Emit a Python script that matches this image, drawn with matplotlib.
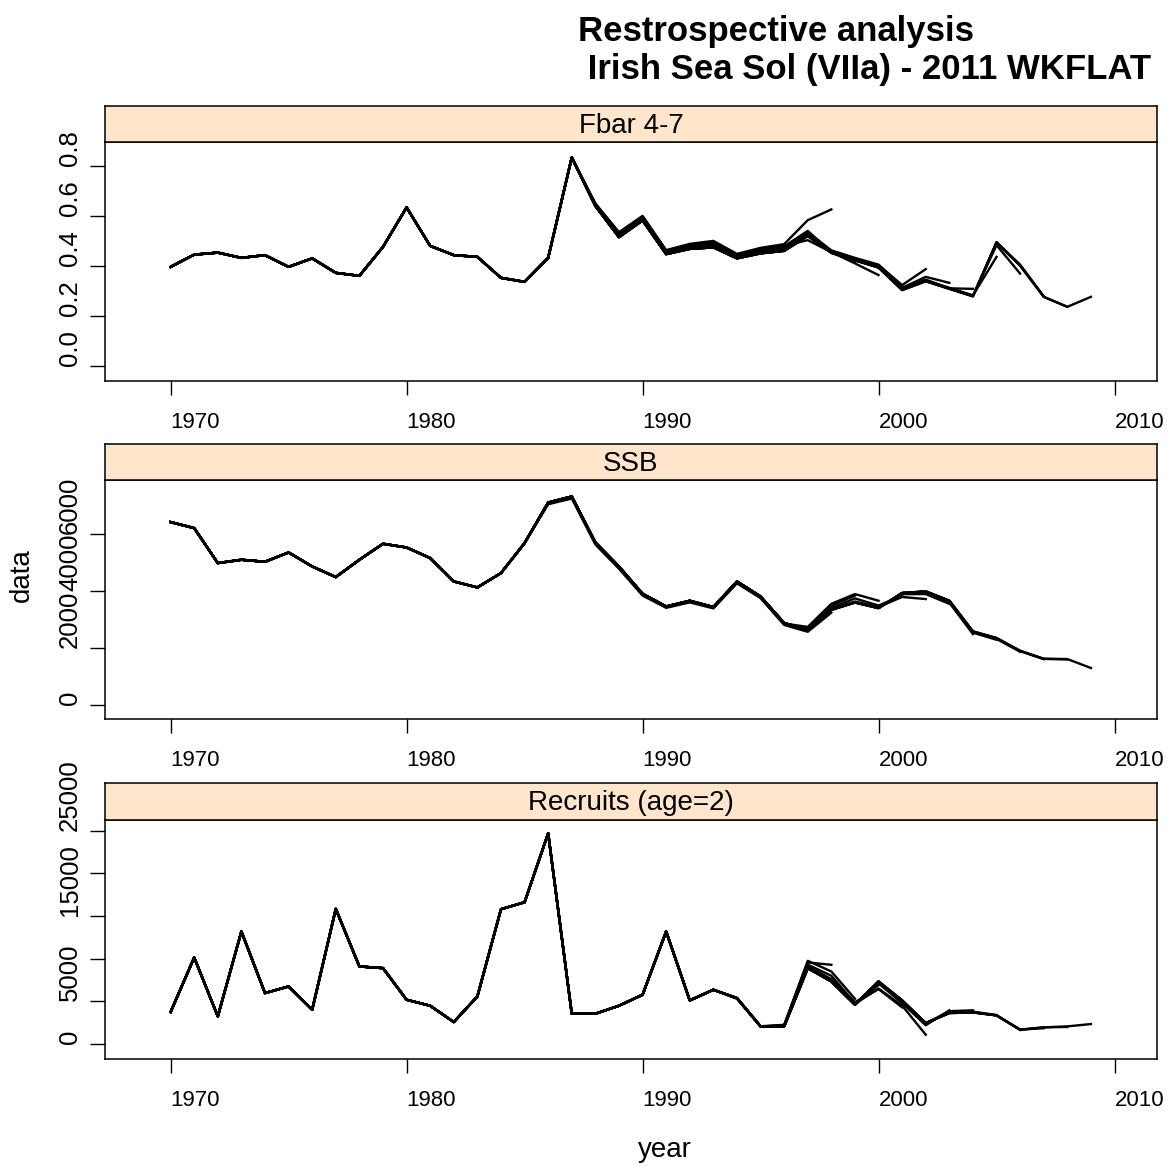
import matplotlib.pyplot as plt

plt.rcParams['font.family'] = ['Liberation Sans', 'DejaVu Sans']

# final assessment (terminal year 2009), 1970-2009
years = list(range(1970, 2010))

fbar_final = [0.396, 0.445, 0.453, 0.432, 0.443, 0.396, 0.430, 0.372, 0.360, 0.476,
              0.634, 0.480, 0.443, 0.436, 0.352, 0.336, 0.432, 0.834, 0.640, 0.515,
              0.582, 0.447, 0.468, 0.474, 0.430, 0.450, 0.460, 0.520, 0.452, 0.422,
              0.393, 0.303, 0.338, 0.308, 0.278, 0.495, 0.400, 0.276, 0.236, 0.276]

ssb_final = [6425, 6214, 4988, 5104, 5034, 5360, 4869, 4498, 5104, 5664,
             5535, 5163, 4344, 4134, 4638, 5689, 7111, 7321, 5710, 4869,
             3913, 3468, 3668, 3447, 4344, 3818, 2886, 2652, 3352, 3608,
             3412, 3937, 3994, 3668, 2592, 2361, 1916, 1636, 1625, 1310]

rec_final = [3744, 10140, 3237, 13182, 5967, 6747, 4017, 15834, 9087, 8892,
             5187, 4485, 2574, 5577, 15795, 16614, 24687, 3549, 3549, 4485,
             5772, 13182, 5109, 6357, 5382, 2067, 2067, 8892, 7332, 4602,
             7332, 5109, 2457, 3627, 3705, 3354, 1677, 1950, 2067, 2340]

# retrospective runs: last values of each run, ending at the key year
fbar_retro = {
    1998: [0.650, 0.535, 0.600, 0.463, 0.488, 0.500, 0.448, 0.472, 0.487, 0.583, 0.626],
    1999: [0.648, 0.532, 0.598, 0.460, 0.485, 0.497, 0.445, 0.468, 0.480, 0.503, 0.455, 0.415],
    2000: [0.646, 0.530, 0.595, 0.458, 0.482, 0.493, 0.442, 0.465, 0.478, 0.540, 0.455, 0.410, 0.363],
    2001: [0.645, 0.527, 0.592, 0.456, 0.480, 0.490, 0.440, 0.462, 0.475, 0.535, 0.462, 0.432, 0.405, 0.320],
    2002: [0.590, 0.453, 0.477, 0.486, 0.438, 0.460, 0.472, 0.532, 0.460, 0.430, 0.402, 0.323, 0.387],
    2003: [0.475, 0.484, 0.437, 0.458, 0.470, 0.530, 0.458, 0.428, 0.400, 0.312, 0.356, 0.332],
    2004: [0.435, 0.456, 0.467, 0.528, 0.456, 0.426, 0.398, 0.310, 0.345, 0.310, 0.308],
    2005: [0.465, 0.525, 0.455, 0.425, 0.397, 0.308, 0.342, 0.312, 0.282, 0.436],
    2006: [0.454, 0.424, 0.395, 0.306, 0.342, 0.310, 0.280, 0.483, 0.369],
    2007: [0.395, 0.305, 0.340, 0.309, 0.279, 0.495, 0.405, 0.278],
    2008: [0.339, 0.308, 0.278, 0.492, 0.402, 0.276, 0.236],
}

ssb_retro = {
    1998: [7050, 7250, 5640, 4790, 3850, 3420, 3610, 3400, 4280, 3760, 2820, 2580, 3250],
    1999: [7080, 7290, 5680, 4830, 3880, 3440, 3640, 3420, 4300, 3780, 2850, 2700, 3500, 3850],
    2000: [5700, 4850, 3900, 3455, 3655, 3435, 4320, 3800, 2870, 2750, 3560, 3902, 3668],
    2001: [3905, 3462, 3662, 3440, 4335, 3810, 2875, 2680, 3420, 3750, 3500, 3850],
    2002: [4340, 3815, 2880, 2660, 3380, 3640, 3450, 3800, 3727],
    2003: [3360, 3620, 3420, 3900, 3900, 3560],
    2004: [3410, 3940, 3980, 3600, 2500],
    2005: [3990, 3660, 2550, 2300],
    2006: [2580, 2330, 1880],
    2007: [2355, 1900, 1620],
    2008: [1910, 1630, 1610],
}

rec_retro = {
    1998: [5300, 2050, 2200, 9555, 9282],
    1999: [5350, 2080, 2250, 9750, 8500, 5300],
    2000: [2070, 2100, 9300, 8000, 4800, 6900],
    2001: [2150, 9100, 7600, 4900, 6435, 4300],
    2002: [9000, 7500, 4700, 6500, 4500, 1092],
    2003: [7400, 4650, 7100, 4800, 2200, 3940],
    2004: [4620, 7200, 4950, 2400, 3850, 3950],
    2005: [5000, 2450, 3700, 3800, 3400],
    2006: [3650, 3720, 3360, 1650],
    2007: [3355, 1690, 1850],
    2008: [1680, 1960, 2000],
}

panels = [
    ("Fbar 4-7", fbar_final, fbar_retro, (-0.061, 0.896),
     [0, 0.2, 0.4, 0.6, 0.8], ["0.0", "0.2", "0.4", "0.6", "0.8"]),
    ("SSB", ssb_final, ssb_retro, (-477, 7900),
     [0, 2000, 4000, 6000], ["0", "2000", "4000", "6000"]),
    ("Recruits (age=2)", rec_final, rec_retro, (-1755, 26250),
     [0, 5000, 10000, 15000, 20000, 25000], ["0", "5000", "", "15000", "", "25000"]),
]

W, H = 1174, 1167
fig = plt.figure(figsize=(W / 100, H / 100), dpi=100)

left, right = 105, 1157
# (strip top, panel top, panel bottom) in pixels
rows = [(106, 142, 381), (444, 480, 719), (783, 820, 1059)]

for (title, final, retro, ylim, yt, ytl), (s_top, p_top, p_bot) in zip(panels, rows):
    ax = fig.add_axes([left / W, 1 - p_bot / H, (right - left) / W, (p_bot - p_top) / H])
    st = fig.add_axes([left / W, 1 - p_top / H, (right - left) / W, (p_top - s_top) / H])

    for end in sorted(retro):
        tail = retro[end]
        n = end - years[0] + 1
        vals = final[:n - len(tail)] + tail
        ax.plot(years[:n], vals, color='black', lw=1.7)
    ax.plot(years, final, color='black', lw=1.7)

    ax.set_xlim(1967.22, 2011.8)
    ax.set_ylim(*ylim)
    ax.set_xticks([1970, 1980, 1990, 2000, 2010])
    ax.set_xticklabels(["1970", "1980", "1990", "2000", "2010"], ha='left')
    ax.set_yticks(yt)
    ax.set_yticklabels(ytl, rotation=90, va='bottom')
    ax.tick_params(axis='x', direction='out', length=10, width=1, labelsize=16, pad=12)
    ax.tick_params(axis='y', direction='out', length=10.5, width=1, labelsize=18.5, pad=6)
    for sp in ax.spines.values():
        sp.set_linewidth(1.1)

    st.set_facecolor('#FFE5CC')
    st.set_xticks([])
    st.set_yticks([])
    for sp in st.spines.values():
        sp.set_linewidth(1.1)
    st.text(0.5, 0.45, title, ha='center', va='center', fontsize=20, transform=st.transAxes)

fig.text(578 / W, 1 - 31 / H, "Restrospective analysis", ha='left', va='center',
         fontsize=25, fontweight='bold')
fig.text(578 / W, 1 - 70 / H, " Irish Sea Sol (VIIa) - 2011 WKFLAT", ha='left', va='center',
         fontsize=25, fontweight='bold')
fig.text(22 / W, 1 - 575 / H, "data", rotation=90, ha='center', va='center', fontsize=20)
fig.text(665 / W, 1 - 1150 / H, "year", ha='center', va='center', fontsize=20)

fig.savefig("out.png", dpi=100, facecolor='white')
